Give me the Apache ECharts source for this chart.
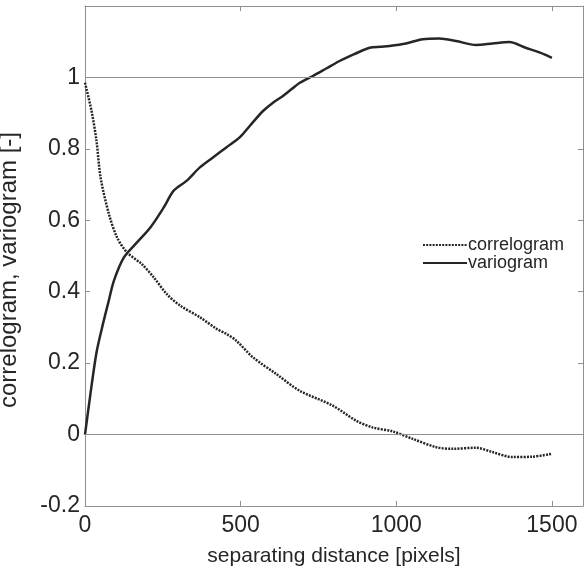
<!DOCTYPE html>
<html>
<head>
<meta charset="utf-8">
<script src="https://cdn.jsdelivr.net/npm/echarts@6/dist/echarts.min.js"></script>
<style>
html,body{margin:0;padding:0;background:#fff;}
#chart{width:584px;height:569px;}
</style>
</head>
<body>
<div id="chart"></div>
<script>
// Variogram samples
var varioDist = [0, 20, 37, 55, 75, 93, 125, 167, 210, 253, 285, 327, 369, 410, 454, 497, 535, 572, 605, 636, 665, 690, 732, 775, 818, 865, 914, 950, 978, 1031, 1085, 1138, 1192, 1256, 1309, 1363, 1416, 1460, 1500];
var varioVal  = [0, 0.13, 0.23, 0.30, 0.37, 0.431, 0.496, 0.538, 0.58, 0.636, 0.683, 0.711, 0.748, 0.775, 0.804, 0.832, 0.87, 0.906, 0.93, 0.948, 0.968, 0.985, 1.004, 1.025, 1.046, 1.065, 1.083, 1.086, 1.088, 1.095, 1.107, 1.109, 1.102, 1.091, 1.095, 1.099, 1.083, 1.07, 1.055];
// Correlogram samples
var corrDist = [0, 21, 37, 50, 77, 103, 135, 183, 221, 263, 306, 370, 423, 454, 486, 540, 614, 689, 796, 871, 924, 988, 1053, 1127, 1181, 1256, 1309, 1373, 1437, 1500];
var corrVal  = [0.985, 0.906, 0.822, 0.72, 0.617, 0.552, 0.51, 0.477, 0.44, 0.393, 0.361, 0.328, 0.296, 0.282, 0.263, 0.216, 0.170, 0.123, 0.081, 0.039, 0.020, 0.009, -0.012, -0.035, -0.040, -0.037, -0.049, -0.063, -0.062, -0.054];
var refLines = [0, 1];
var seriesNames = ['correlogram', 'variogram'];
var xTitle = 'separating distance [pixels]';
var yTitle = 'correlogram, variogram [-]';

function pairs(xs, ys) { return xs.map(function (x, i) { return [x, ys[i]]; }); }

var axisGray = '#8f8f8f';
var ink = '#262626';
var font = 'Liberation Sans, Arial, Helvetica, sans-serif';

var chart = echarts.init(document.getElementById('chart'), null, {renderer: 'canvas'});
chart.setOption({
  backgroundColor: '#fff',
  animation: false,
  grid: {left: 85, right: 1, top: 6, bottom: 63, containLabel: false, outerBoundsMode: 'none'},
  legend: {
    orient: 'vertical', left: 422, top: 236, itemWidth: 44, itemHeight: 10, itemGap: 0,
    padding: 0,
    itemStyle: {color: 'transparent', borderWidth: 0, opacity: 0},
    textStyle: {fontFamily: font, fontSize: 18, color: ink, lineHeight: 17, padding: [0,0,0,-4]},
    data: seriesNames
  },
  xAxis: [{
    type: 'value', min: 0, max: 1600, interval: 500, position: 'bottom',
    name: xTitle, nameLocation: 'middle', nameGap: 40,
    nameTextStyle: {fontFamily: font, fontSize: 21, color: ink},
    axisLine: {show: true, onZero: false, lineStyle: {color: axisGray, width: 1}},
    axisTick: {show: true, inside: true, length: 5, lineStyle: {color: axisGray}},
    axisLabel: {fontFamily: font, fontSize: 23, color: ink, margin: 8,
      formatter: function (v) { return String(Math.round(v)); }},
    splitLine: {show: false}
  }, {
    type: 'value', min: 0, max: 1600, interval: 500, position: 'top',
    axisLine: {show: true, onZero: false, lineStyle: {color: axisGray, width: 1}},
    axisTick: {show: true, inside: true, length: 5, lineStyle: {color: axisGray}},
    axisLabel: {show: false}, splitLine: {show: false}
  }],
  yAxis: [{
    type: 'value', min: -0.2, max: 1.2, interval: 0.2, position: 'left',
    name: yTitle, nameLocation: 'middle', nameGap: 64, nameRotate: 90,
    nameTextStyle: {fontFamily: font, fontSize: 24, color: ink, padding: [0, 28, 0, 0]},
    axisLine: {show: true, onZero: false, lineStyle: {color: axisGray, width: 1}},
    axisTick: {show: true, inside: true, length: 5, lineStyle: {color: axisGray}},
    axisLabel: {fontFamily: font, fontSize: 23, color: ink, margin: 5,
      formatter: function (v) { var r = Math.round(v * 10) / 10; return r > 1.05 ? '' : String(r); }},
    splitLine: {show: false}
  }, {
    type: 'value', min: -0.2, max: 1.2, interval: 0.2, position: 'right',
    axisLine: {show: true, onZero: false, lineStyle: {color: axisGray, width: 1}},
    axisTick: {show: true, inside: true, length: 5, lineStyle: {color: axisGray}},
    axisLabel: {show: false}, splitLine: {show: false}
  }],
  series: [{
    name: seriesNames[0], type: 'line', smooth: 0.3, symbol: 'none',
    data: pairs(corrDist, corrVal),
    lineStyle: {color: ink, width: 2.5, type: [2, 1.2]},
    itemStyle: {color: ink},
    z: 3,
    markLine: {
      silent: true, symbol: 'none', label: {show: false},
      lineStyle: {color: axisGray, width: 1, type: 'solid'},
      data: refLines.map(function (v) { return {yAxis: v}; })
    }
  }, {
    name: seriesNames[1], type: 'line', smooth: 0.3, symbol: 'none',
    data: pairs(varioDist, varioVal),
    lineStyle: {color: ink, width: 2.5, type: 'solid'},
    itemStyle: {color: ink},
    z: 3
  }]
});
</script>
</body>
</html>
